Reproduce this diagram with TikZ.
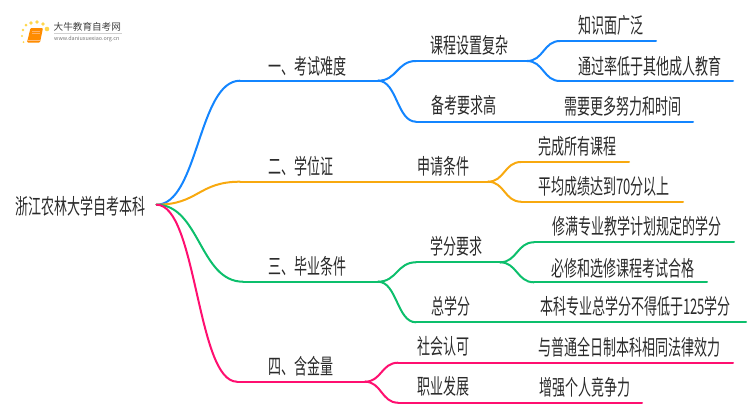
\documentclass[tikz,border=0pt]{standalone}
\usepackage{fontspec}
\usetikzlibrary{calc}
\setmainfont{Noto Sans CJK SC}[FakeStretch=0.605]
\newfontfamily\logofont{Noto Sans CJK SC}
\definecolor{cblue}{HTML}{1385FF}
\definecolor{corange}{HTML}{F8A90F}
\definecolor{cgreen}{HTML}{0CBF6C}
\definecolor{cpink}{HTML}{FF0F70}
\definecolor{ctext}{HTML}{2A2A2A}
\tikzset{
  lab/.style={anchor=west,inner sep=0pt,outer sep=0pt,text=ctext,font=\fontsize{21.5pt}{23pt}\selectfont,text height=16.4pt,text depth=0pt},
  conn/.style={line width=2pt,line cap=round},
  dot/.style={circle,fill=#1,draw=none,inner sep=0pt},
  sbranch/.style={to path={let \p1=(\tikztostart),\p2=(\tikztotarget),\n1={0.5*(\x1+\x2)} in .. controls (\n1,\y1) and (\n1,\y2) .. (\tikztotarget)}},
}
\begin{document}
\begin{tikzpicture}[x=1pt,y=-1pt]
\useasboundingbox (0,0) rectangle (750,410);
% logo
\foreach \n/\px/\py/\s in {a/47/29/4.6,b/43/24/3.8,c/37/22/3.8,d/31/23/3.6,e/26/25/3,f/23/30/2.6,g/22/36/2.4,h/23.5/42/2}
  \node[dot=orange!45!yellow!70!white,minimum size=\s pt,name=dot\n] at (\px,\py) {};
\fill[orange!90!yellow,rounded corners=1pt] (30.5,28) -- (43,28) -- (40,42.5) -- (27,42.5) -- cycle;
\draw[orange!60!white,line width=.7pt] (32,31) -- (40,31) (31.5,33.5) -- (39.5,33.5);
\draw[orange!50!white,line width=.8pt] (27.5,40.5) -- (39.5,40.5);
\node[inner sep=0pt,anchor=west,text=black!75,font=\logofont\fontsize{9.6pt}{10pt}\selectfont] (logotext) at (53.5,27) {大牛教育自考网};
\coordinate (logoL) at (54,33.2);
\coordinate (logoR) at (122,33.2);
\draw[black!18,line width=.6pt] (logoL) -- (logoR);
\node[inner sep=0pt,anchor=west,text=black!55,font=\logofont\fontsize{5.4pt}{6pt}\selectfont] (logourl) at (54,38.7) {www.daniuxuexiao.org.cn};

% labels
\node[lab] (root) at (15,206) {浙江农林大学自考本科};
\node[lab] (n1) at (268,66) {一、考试难度};
\node[lab] (n2) at (268,166) {二、学位证};
\node[lab] (n3) at (268,266.7) {三、毕业条件};
\node[lab] (n4) at (268,366.7) {四、含金量};
\node[lab] (n11) at (430,45) {课程设置复杂};
\node[lab] (n12) at (431,105) {备考要求高};
\node[lab] (n111) at (578,25) {知识面广泛};
\node[lab] (n112) at (578,66) {通过率低于其他成人教育};
\node[lab] (n121) at (564,106) {需要更多努力和时间};
\node[lab] (n21) at (417,166) {申请条件};
\node[lab] (n211) at (538,146) {完成所有课程};
\node[lab] (n212) at (538,186) {平均成绩达到70分以上};
\node[lab] (n31) at (430,246.7) {学分要求};
\node[lab] (n32) at (431,306.7) {总学分};
\node[lab] (n311) at (552,226.7) {修满专业教学计划规定的学分};
\node[lab] (n312) at (551,268) {必修和选修课程考试合格};
\node[lab] (n321) at (540,306.7) {本科专业总学分不得低于125学分};
\node[lab] (n41) at (417,346.7) {社会认可};
\node[lab] (n42) at (417,386.7) {职业发展};
\node[lab] (n411) at (538,347) {与普通全日制本科相同法律效力};
\node[lab] (n421) at (539,387) {增强个人竞争力};

% joints
\coordinate (r) at (156.5,204.7);
\coordinate (a1) at (240,80.7);  \coordinate (b1) at (378,80.7);
\coordinate (a2) at (240,181.7); \coordinate (b2) at (488,181.7);
\coordinate (a3) at (243,281.7); \coordinate (b3) at (378,281.7);
\coordinate (a4) at (237,381.7); \coordinate (b4) at (365,381.7);
\coordinate (a11) at (416,61);   \coordinate (b11) at (527,61);
\coordinate (a12) at (416,121.7);\coordinate (b12) at (693,121.7);
\coordinate (a111) at (560,41);  \coordinate (b111) at (656,41);
\coordinate (a112) at (560,81);  \coordinate (b112) at (733,81);
\coordinate (a211) at (521,162); \coordinate (b211) at (629,162);
\coordinate (a212) at (521,201.7);\coordinate (b212) at (683,201.7);
\coordinate (a31) at (416,262.3);\coordinate (b31) at (500,262.3);
\coordinate (a32) at (416,322.3);\coordinate (b32) at (746,322.3);
\coordinate (a311) at (534,242.3);\coordinate (b311) at (734,242.3);
\coordinate (a312) at (534,282.3);\coordinate (b312) at (707,282.3);
\coordinate (a41) at (398,362.7);\coordinate (b41) at (733,362.7);
\coordinate (a42) at (398,402.7);\coordinate (b42) at (642,402.7);

% blue
\begin{scope}[conn,cblue]
\draw (r) to[sbranch] (a1);
\draw (a1) -- (b1);
\draw (b1) to[sbranch] (a11);
\draw (a11) -- (b11);
\draw (b1) to[sbranch] (a12);
\draw (a12) -- (b12);
\draw (b11) to[sbranch] (a111);
\draw (a111) -- (b111);
\draw (b11) to[sbranch] (a112);
\draw (a112) -- (b112);
\end{scope}
% orange
\begin{scope}[conn,corange]
\draw (r) to[sbranch] (a2);
\draw (a2) -- (b2);
\draw (b2) to[sbranch] (a211);
\draw (a211) -- (b211);
\draw (b2) to[sbranch] (a212);
\draw (a212) -- (b212);
\end{scope}
% green
\begin{scope}[conn,cgreen]
\draw (r) to[sbranch] (a3);
\draw (a3) -- (b3);
\draw (b3) to[sbranch] (a31);
\draw (a31) -- (b31);
\draw (b3) to[sbranch] (a32);
\draw (a32) -- (b32);
\draw (b31) to[sbranch] (a311);
\draw (a311) -- (b311);
\draw (b31) to[sbranch] (a312);
\draw (a312) -- (b312);
\end{scope}
% pink
\begin{scope}[conn,cpink]
\draw (r) to[sbranch] (a4);
\draw (a4) -- (b4);
\draw (b4) to[sbranch] (a41);
\draw (a41) -- (b41);
\draw (b4) to[sbranch] (a42);
\draw (a42) -- (b42);
\end{scope}
\end{tikzpicture}
\end{document}
